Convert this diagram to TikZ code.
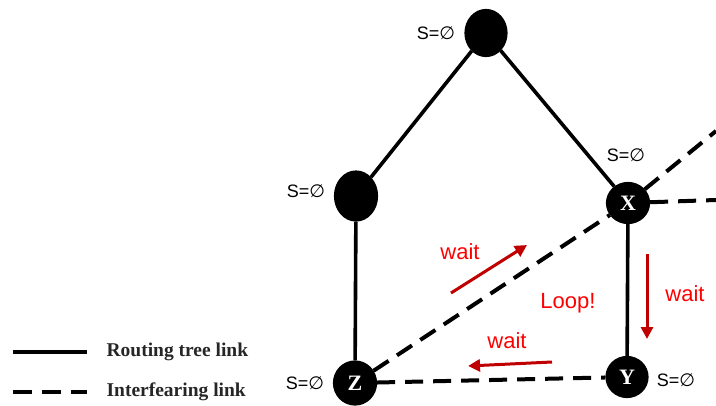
\documentclass[tikz,border=0pt]{standalone}
\usepackage{fontspec}
\setmainfont{Liberation Serif}
\newfontfamily\labelfont{Liberation Sans}
\newfontfamily\symbfont{DejaVu Sans}
\usetikzlibrary{arrows.meta,shapes.geometric}
\definecolor{waitred}{RGB}{192,0,0}
\newcommand{\emptyS}{S={\symbfont ∅}}

\begin{document}
\begin{tikzpicture}[x=0.5pt,y=-0.5pt,semithick]
  \tikzstyle{sensor}=[ellipse,fill,draw,inner sep=0pt,text=white,font=\fontsize{11}{12}\selectfont\bfseries]
  \tikzstyle{tree}=[line width=1.8pt]
  \tikzstyle{interf}=[line width=2pt,dash pattern=on 9pt off 5pt]
  \tikzstyle{setlabel}=[font=\labelfont\fontsize{9}{10}\selectfont]
  \tikzstyle{waitarrow}=[-{Triangle[length=6pt,width=6pt]},waitred,line width=1.5pt]
  \tikzstyle{waitlabel}=[text=red,font=\labelfont\fontsize{11}{13}\selectfont]
  \tikzstyle{legend}=[anchor=west,inner sep=0pt,text=black!85,font=\fontsize{9.75}{11}\selectfont\bfseries]
  \useasboundingbox (0,0) rectangle (716,406);
  % sensors
  \node[sensor,minimum width=21pt,minimum height=23.5pt] (root) at (486,33) {};
  \node[sensor,minimum width=21.5pt,minimum height=25pt] (mid) at (356,196) {};
  \node[sensor,minimum width=21.5pt,minimum height=20.5pt] (x) at (628,203) {X};
  \node[sensor,minimum width=21.5pt,minimum height=22pt] (z) at (355,383) {Z};
  \node[sensor,minimum width=21pt,minimum height=20.5pt] (y) at (627,377) {Y};
  \node[setlabel] (sroot) at (436,33) {\emptyS};
  \node[setlabel] (smid) at (306,191) {\emptyS};
  \node[setlabel] (sx) at (626,155) {\emptyS};
  \node[setlabel] (sz) at (305,383) {\emptyS};
  \node[setlabel] (sy) at (676,380) {\emptyS};
  \coordinate (xne) at (716,131);
  \coordinate (xeast) at (716,200);
  % links
  \path (root) edge[tree] (mid);
  \path (root) edge[tree] (x);
  \path (mid) edge[tree] (z);
  \path (x) edge[tree] (y);
  \path (z) edge[interf] (x);
  \path (x) edge[interf] (xne);
  \path (x) edge[interf] (xeast);
  \path (z) edge[interf] (y);
  % waiting
  \coordinate (w1s) at (451,293); \coordinate (w1e) at (527,245);
  \coordinate (w2s) at (647,254); \coordinate (w2e) at (647,339);
  \coordinate (w3s) at (552,362); \coordinate (w3e) at (468,366);
  \draw[waitarrow] (w1s) -- (w1e);
  \draw[waitarrow] (w2s) -- (w2e);
  \draw[waitarrow] (w3s) -- (w3e);
  \node[waitlabel] (wait1) at (460,252) {wait};
  \node[waitlabel] (wait2) at (685,294) {wait};
  \node[waitlabel] (wait3) at (507,341) {wait};
  \node[waitlabel] (loop) at (568,303) {Loop!};
  % legend
  \coordinate (solidA) at (13,352); \coordinate (solidB) at (87,352);
  \coordinate (dashA) at (13,392); \coordinate (dashB) at (87,392);
  \draw[line width=2pt] (solidA) -- (solidB);
  \draw[line width=2pt,dash pattern=on 9.5pt off 5pt] (dashA) -- (dashB);
  \node[legend] (treetext) at (106,352) {Routing tree link};
  \node[legend] (interftext) at (106,392) {Interfearing link};
\end{tikzpicture}
\end{document}
